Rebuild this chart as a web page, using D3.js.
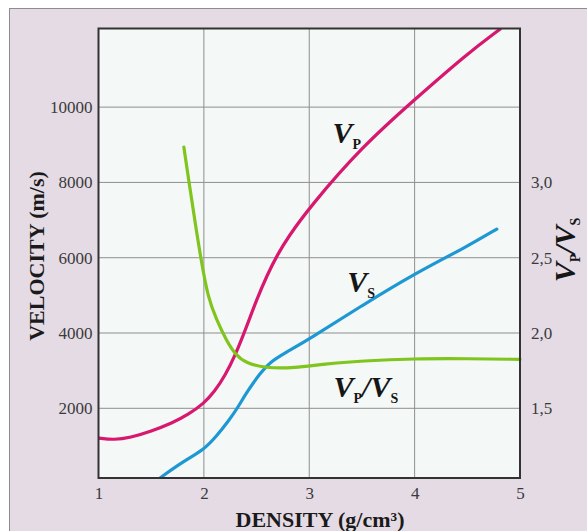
<!DOCTYPE html>
<html>
<head>
    <meta charset="utf-8">
    <title>Velocity vs density</title>
    <script src="https://d3js.org/d3.v7.min.js"></script>
    <style>
        body { margin: 0; background: white; }
        svg { display: block; }
        text { font-family: "Liberation Serif", "DejaVu Serif", serif; }
        .tick text { fill: #3a3a3a; font-size: 17px; }
        .title { font-weight: bold; font-size: 22px; fill: #1a1a1a; }
        .big { font-weight: bold; font-style: italic; font-size: 30px; }
        .sub { font-weight: bold; font-size: 14px; }
    </style>
</head>
<body>
<svg id="chart" width="587" height="531"></svg>
<script>
    'use strict';

    // values
    const densityTicks = [1, 2, 3, 4, 5];
    const velocityTicks = [2000, 4000, 6000, 8000, 10000];
    const ratioTicks = [1.5, 2.0, 2.5, 3.0];

    const vpDensity = [1.0, 1.15, 1.3, 1.5, 1.7, 1.85, 2.0, 2.1, 2.2, 2.3, 2.4, 2.5, 2.6, 2.7, 2.8, 3.0, 3.5, 4.0, 4.5, 4.81];
    const vpVelocity = [1210, 1160, 1220, 1390, 1610, 1830, 2130, 2440, 2860, 3420, 4130, 4880, 5540, 6090, 6550, 7330, 8950, 10200, 11420, 12070];

    const vsDensity = [1.584, 1.8, 2.0, 2.12, 2.24, 2.32, 2.4, 2.54, 2.63, 2.77, 3.0, 3.5, 4.0, 4.5, 4.78];
    const vsVelocity = [150, 580, 900, 1260, 1690, 2010, 2400, 2960, 3230, 3470, 3840, 4730, 5580, 6300, 6760];

    const ratioDensity = [1.81, 1.87, 1.92, 1.97, 2.04, 2.12, 2.21, 2.3, 2.4, 2.58, 2.86, 3.14, 3.5, 4.0, 4.5, 5.0];
    const ratioValue = [3.235, 2.95, 2.72, 2.5, 2.23, 2.09, 1.955, 1.855, 1.8, 1.767, 1.767, 1.795, 1.815, 1.83, 1.83, 1.825];

    const svg = d3.select("#chart");

    const plot = {left: 98.5, right: 520, top: 28.5, bottom: 478};

    const x = d3.scaleLinear().domain([1, 5]).range([plot.left, plot.right]);
    const y = d3.scaleLinear().domain([149, 12088]).range([plot.bottom, plot.top]);
    // ratio axis lines up with velocity: 1.5 <-> 2000, 2.0 <-> 4000
    const yr = d3.scaleLinear().domain(y.domain().map(v => 1 + v / 4000)).range([plot.bottom, plot.top]);

    // lavender panel
    svg.append("rect")
        .attr("x", 9.5).attr("y", 8.5)
        .attr("width", 600).attr("height", 600)
        .attr("fill", "#e5dbe5")
        .attr("stroke", "#8c8c8c");

    svg.append("rect")
        .attr("x", plot.left).attr("y", plot.top)
        .attr("width", plot.right - plot.left).attr("height", plot.bottom - plot.top)
        .attr("fill", "#f4f8f6");

    // grid
    const grid = svg.append("g").attr("stroke", "#8e8e8e").attr("stroke-width", 1);
    grid.selectAll("line.v")
        .data(densityTicks.slice(1, -1))
        .join("line")
        .attr("class", "v")
        .attr("x1", d => x(d)).attr("x2", d => x(d))
        .attr("y1", plot.top).attr("y2", plot.bottom);
    grid.selectAll("line.h")
        .data(velocityTicks)
        .join("line")
        .attr("class", "h")
        .attr("x1", plot.left).attr("x2", plot.right)
        .attr("y1", d => y(d)).attr("y2", d => y(d));

    // axes (labels only, frame drawn separately)
    svg.append("g")
        .attr("transform", `translate(${plot.left},0)`)
        .call(d3.axisLeft(y).tickValues(velocityTicks).tickSize(0).tickPadding(6).tickFormat(d3.format("d")))
        .call(g => g.select(".domain").remove())
        .selectAll("text").attr("dy", "0.32em").style("font-family", "Liberation Serif");

    svg.append("g")
        .attr("transform", `translate(${plot.right},0)`)
        .call(d3.axisRight(yr).tickValues(ratioTicks).tickSize(0).tickPadding(11)
            .tickFormat(d => d3.format(".1f")(d).replace(".", ",")))
        .call(g => g.select(".domain").remove())
        .selectAll("text").attr("dy", "0.32em").style("font-family", "Liberation Serif");

    svg.append("g")
        .attr("transform", `translate(0,${plot.bottom})`)
        .call(d3.axisBottom(x).tickValues(densityTicks).tickSize(0).tickPadding(9).tickFormat(d3.format("d")))
        .call(g => g.select(".domain").remove())
        .selectAll("text").attr("dy", "0.71em").style("font-family", "Liberation Serif");

    // curves
    svg.append("clipPath").attr("id", "clip")
        .append("rect")
        .attr("x", plot.left).attr("y", plot.top)
        .attr("width", plot.right - plot.left + 2).attr("height", plot.bottom - plot.top);

    const curves = [
        {xs: vpDensity, ys: vpVelocity, scale: y, color: "#d8176f"},
        {xs: vsDensity, ys: vsVelocity, scale: y, color: "#1d98d4"},
        {xs: ratioDensity, ys: ratioValue, scale: yr, color: "#80c41e"}
    ];

    // basis curve smooths out the reading noise in the points
    svg.append("g")
        .attr("clip-path", "url(#clip)")
        .selectAll("path")
        .data(curves)
        .join("path")
        .attr("fill", "none")
        .attr("stroke", d => d.color)
        .attr("stroke-width", 3.2)
        .attr("stroke-linecap", "round")
        .attr("d", d => d3.line()
            .x(i => x(d.xs[i]))
            .y(i => d.scale(d.ys[i]))
            .curve(d3.curveBasis)(d3.range(d.xs.length)));

    // frame
    svg.append("rect")
        .attr("x", plot.left).attr("y", plot.top)
        .attr("width", plot.right - plot.left).attr("height", plot.bottom - plot.top)
        .attr("fill", "none")
        .attr("stroke", "#333")
        .attr("stroke-width", 2);

    // curve labels
    function label(px, py, parts) {
        const t = svg.append("text").attr("x", px).attr("y", py).attr("fill", "#161616");
        parts.forEach(p => {
            t.append("tspan")
                .attr("class", p.sub ? "sub" : "big")
                .attr("dy", p.dy || 0)
                .text(p.t);
        });
        return t;
    }

    label(x(3.22), y(9050), [{t: "V"}, {t: "P", sub: true, dy: 6}]);
    label(x(3.36), y(5080), [{t: "V"}, {t: "S", sub: true, dy: 6}]);
    label(x(3.23), y(2300), [{t: "V"}, {t: "P", sub: true, dy: 6}, {t: "/V", dy: -6}, {t: "S", sub: true, dy: 6}]);

    // axis titles
    svg.append("text")
        .attr("class", "title")
        .attr("transform", "translate(44,256) rotate(-90)")
        .attr("text-anchor", "middle")
        .text("VELOCITY (m/s)");

    svg.append("text")
        .attr("class", "title")
        .attr("x", 320).attr("y", 527)
        .attr("text-anchor", "middle")
        .text("DENSITY (g/cm³)");

    const rt = svg.append("text")
        .attr("transform", "translate(575,250) rotate(-90)")
        .attr("text-anchor", "middle")
        .attr("fill", "#161616");
    rt.append("tspan").attr("class", "big").text("V");
    rt.append("tspan").attr("class", "sub").attr("dy", 5).text("P");
    rt.append("tspan").attr("class", "big").attr("dy", -5).text("/V");
    rt.append("tspan").attr("class", "sub").attr("dy", 5).text("S");
</script>
</body>
</html>
